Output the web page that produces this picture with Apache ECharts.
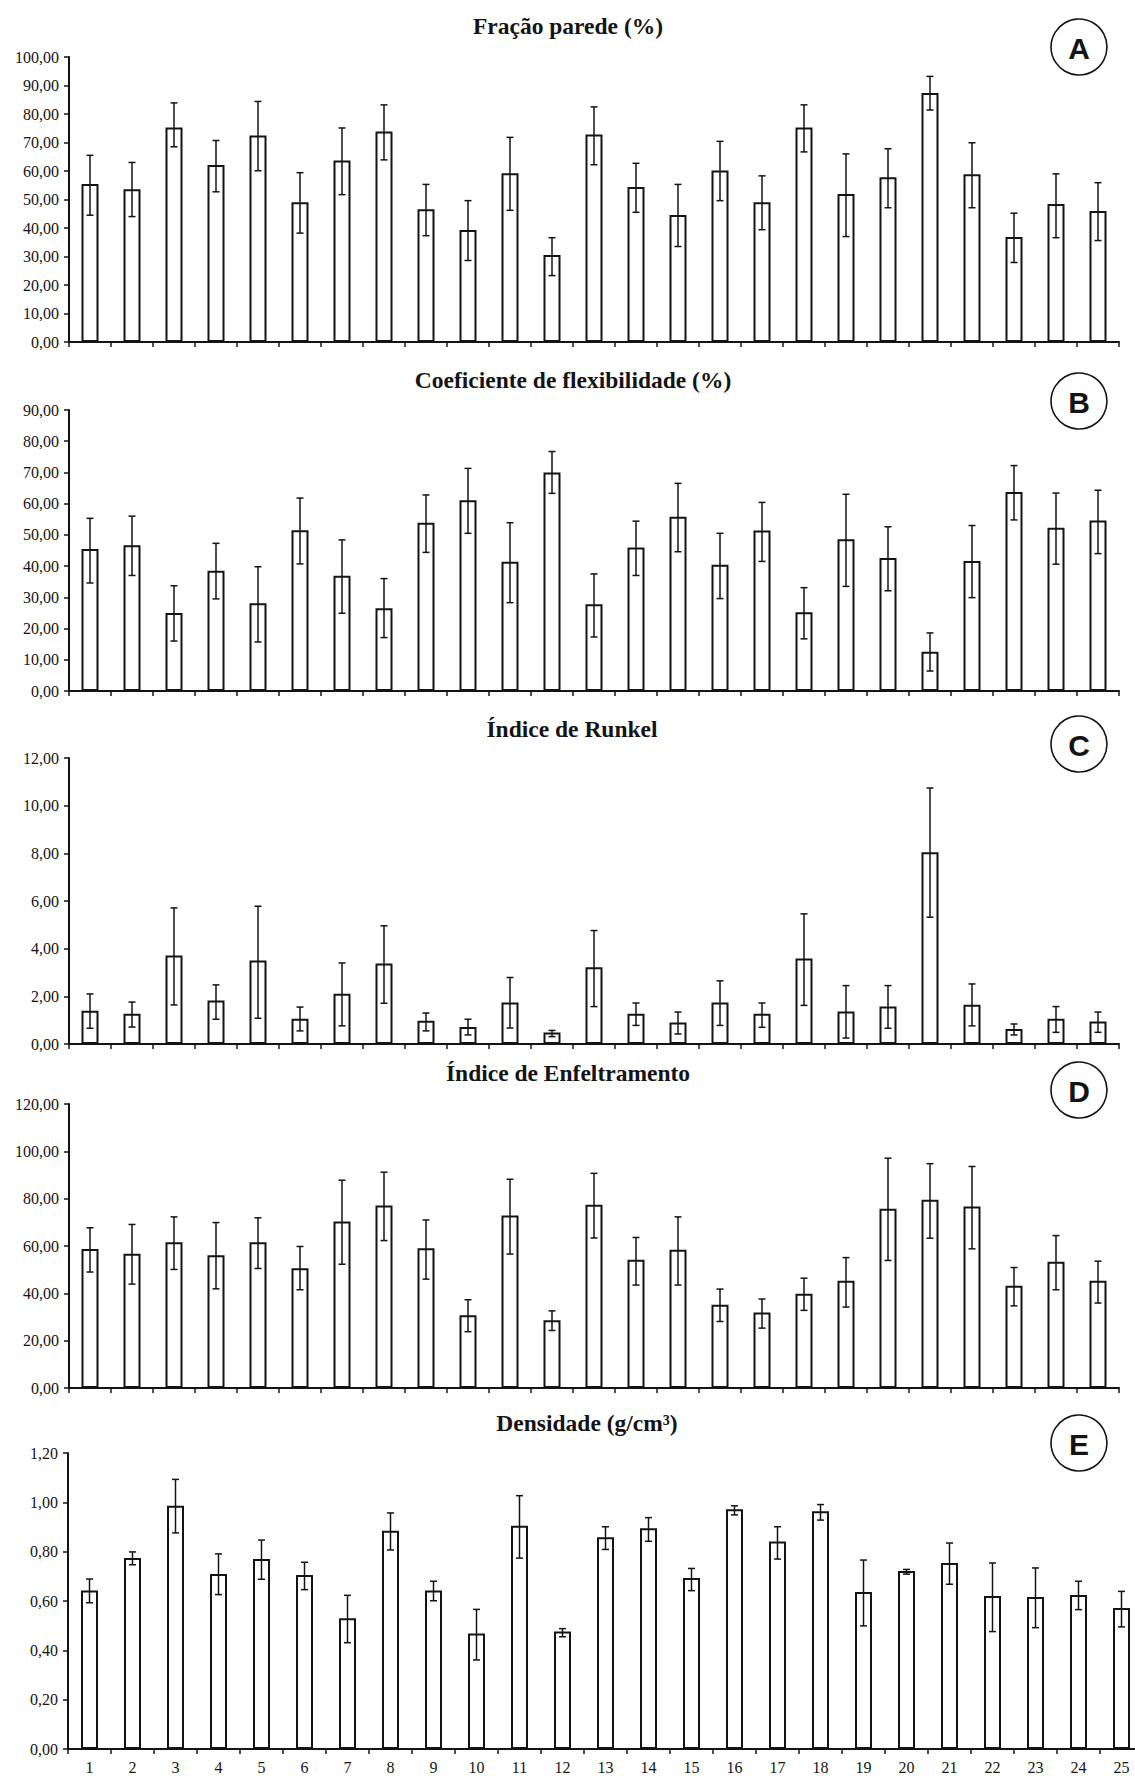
<!DOCTYPE html>
<html>
<head>
<meta charset="utf-8">
<script src="https://cdn.jsdelivr.net/npm/echarts@6/dist/echarts.min.js"></script>
<style>
  html, body { margin: 0; padding: 0; background: #fff; }
  #chart { width: 1135px; height: 1778px; font-family: 'Liberation Serif', serif; }
</style>
</head>
<body>
<div id="chart"></div>
<script>
const categories = ['1','2','3','4','5','6','7','8','9','10','11','12','13','14','15','16','17','18','19','20','21','22','23','24','25'];

const panelTitles = ['Fração parede (%)', 'Coeficiente de flexibilidade (%)', 'Índice de Runkel', 'Índice de Enfeltramento', 'Densidade (g/cm³)'];
const panelLetters = ['A', 'B', 'C', 'D', 'E'];
const yMax = [100, 90, 12, 120, 1.2];
const yStep = [10, 10, 2, 20, 0.2];

const fracaoMean = [55.4,53.6,75.3,62.1,72.5,49.0,63.7,73.9,46.6,39.3,59.2,30.5,72.8,54.4,44.6,60.2,49.0,75.3,51.9,57.8,87.4,58.9,36.8,48.4,46.0];
const fracaoLow  = [44.5,44.0,68.5,52.7,60.1,38.2,51.7,63.9,37.3,28.6,46.2,23.3,62.2,45.5,33.5,49.6,39.4,66.7,37.0,47.1,81.4,47.1,27.9,36.6,35.6];
const fracaoHigh = [65.5,63.0,83.9,70.7,84.4,59.4,75.1,83.2,55.3,49.6,71.8,36.6,82.5,62.7,55.3,70.4,58.3,83.2,66.0,67.8,93.2,69.9,45.2,59.0,55.9];

const flexMean = [45.5,46.7,25.0,38.5,28.1,51.5,36.9,26.5,53.9,61.1,41.4,70.0,27.8,46.0,55.8,40.4,51.4,25.2,48.6,42.6,12.6,41.6,63.7,52.3,54.6];
const flexLow  = [34.6,37.0,16.0,29.5,15.7,40.7,24.9,17.1,44.4,50.5,28.3,63.3,17.3,37.0,44.6,29.6,41.5,16.7,33.5,32.1,6.4,29.9,54.8,40.6,44.0];
const flexHigh = [55.3,56.0,33.7,47.3,39.8,61.8,48.4,36.0,62.8,71.3,53.9,76.7,37.5,54.4,66.5,50.5,60.4,33.1,63.0,52.6,18.6,53.0,72.2,63.4,64.3];

const runkelMean = [1.40,1.27,3.71,1.82,3.50,1.06,2.11,3.38,0.98,0.71,1.74,0.48,3.22,1.27,0.90,1.74,1.27,3.59,1.36,1.57,8.05,1.65,0.63,1.06,0.94];
const runkelLow  = [0.66,0.71,1.64,1.04,1.08,0.55,0.76,1.71,0.55,0.38,0.67,0.31,1.57,0.78,0.42,0.78,0.70,1.62,0.25,0.66,5.32,0.76,0.38,0.49,0.49];
const runkelHigh = [2.10,1.76,5.71,2.48,5.78,1.55,3.40,4.96,1.30,1.04,2.79,0.57,4.76,1.72,1.34,2.65,1.72,5.46,2.45,2.45,10.74,2.52,0.84,1.57,1.34];

const enfeltMean = [58.7,56.7,61.6,56.1,61.6,50.6,70.3,77.1,59.1,30.7,72.9,28.6,77.4,54.2,58.4,35.2,31.9,39.8,45.3,75.7,79.5,76.7,43.2,53.3,45.3];
const enfeltLow  = [49.0,43.9,50.1,41.9,50.5,41.5,52.3,62.3,46.0,23.8,56.6,24.3,63.4,43.5,43.5,28.1,25.3,32.8,34.2,53.9,63.3,58.8,34.7,41.5,35.9];
const enfeltHigh = [67.7,69.1,72.3,69.9,71.9,59.8,87.8,91.2,71.0,37.3,88.2,32.6,90.7,63.6,72.3,41.8,37.6,46.4,55.1,97.1,94.8,93.6,50.9,64.4,53.6];

const densMean = [0.643,0.774,0.986,0.709,0.770,0.705,0.530,0.885,0.643,0.468,0.905,0.476,0.858,0.895,0.693,0.972,0.841,0.964,0.636,0.722,0.754,0.620,0.616,0.624,0.572];
const densLow  = [0.593,0.747,0.876,0.626,0.688,0.646,0.431,0.807,0.601,0.361,0.774,0.455,0.809,0.842,0.642,0.949,0.770,0.928,0.499,0.709,0.668,0.476,0.492,0.565,0.495];
const densHigh = [0.689,0.799,1.093,0.791,0.847,0.757,0.623,0.957,0.680,0.566,1.027,0.488,0.901,0.938,0.732,0.986,0.901,0.991,0.766,0.728,0.835,0.754,0.734,0.680,0.639];

const means = [fracaoMean, flexMean, runkelMean, enfeltMean, densMean];
const lows = [fracaoLow, flexLow, runkelLow, enfeltLow, densLow];
const highs = [fracaoHigh, flexHigh, runkelHigh, enfeltHigh, densHigh];

// layout (pixels)
const gridBoxes = [
  { left: 69, top: 57,   width: 1050, height: 285 },
  { left: 69, top: 410,  width: 1050, height: 281 },
  { left: 69, top: 758,  width: 1050, height: 286 },
  { left: 69, top: 1104, width: 1050, height: 284 },
  { left: 68, top: 1453, width: 1075, height: 296 }
];
const titlePos = [[568, 26], [573, 380], [572, 729], [568, 1073], [587, 1423]];
const circlePos = [[1079, 47], [1079, 401], [1079, 744], [1079, 1090], [1079, 1443]];

const INK = '#141414';
const serif = 'Liberation Serif';
const fmt = v => v.toFixed(2).replace('.', ',');

const grids = [], xAxes = [], yAxes = [], series = [], graphics = [];
for (let i = 0; i < 5; i++) {
  grids.push(Object.assign({ outerBoundsMode: 'none', containLabel: false }, gridBoxes[i]));
  xAxes.push({
    type: 'category', gridIndex: i, data: categories, boundaryGap: true,
    axisLine: { show: true, onZero: false, lineStyle: { color: INK, width: 2 } },
    axisTick: { show: true, length: 5, inside: false, lineStyle: { color: INK, width: 1.5 } },
    axisLabel: { show: i === 4, fontFamily: serif, fontSize: 16, color: INK, margin: 10, interval: 0 },
    splitLine: { show: false }
  });
  yAxes.push({
    type: 'value', gridIndex: i, min: 0, max: yMax[i], interval: yStep[i],
    axisLine: { show: true, lineStyle: { color: INK, width: 2 } },
    axisTick: { show: true, length: 5, inside: false, lineStyle: { color: INK, width: 1.5 } },
    axisLabel: { fontFamily: serif, fontSize: 16, color: INK, margin: 10, formatter: fmt },
    splitLine: { show: false }
  });
  series.push({
    type: 'bar', xAxisIndex: i, yAxisIndex: i, data: means[i], barWidth: 17,
    itemStyle: { color: '#ffffff', borderColor: INK, borderWidth: 2 },
    silent: true, animation: false, z: 2
  });
  series.push({
    type: 'custom', xAxisIndex: i, yAxisIndex: i, silent: true, animation: false, z: 5,
    data: lows[i].map((l, k) => [k, l, highs[i][k]]),
    renderItem: function (params, api) {
      const lo = api.coord([api.value(0), api.value(1)]);
      const hi = api.coord([api.value(0), api.value(2)]);
      const cw = 3.5;
      const st = { stroke: INK, lineWidth: 1.5 };
      return {
        type: 'group',
        children: [
          { type: 'line', shape: { x1: lo[0], y1: lo[1], x2: hi[0], y2: hi[1] }, style: st },
          { type: 'line', shape: { x1: lo[0] - cw, y1: lo[1], x2: lo[0] + cw, y2: lo[1] }, style: st },
          { type: 'line', shape: { x1: hi[0] - cw, y1: hi[1], x2: hi[0] + cw, y2: hi[1] }, style: st }
        ]
      };
    }
  });
  graphics.push({
    type: 'text', x: titlePos[i][0], y: titlePos[i][1], silent: true,
    style: { text: panelTitles[i], fontFamily: serif, fontSize: 23.5, fontWeight: 'bold', fill: INK, textAlign: 'center', textVerticalAlign: 'middle' }
  });
  graphics.push({
    type: 'circle', shape: { cx: circlePos[i][0], cy: circlePos[i][1], r: 28 }, silent: true,
    style: { fill: '#fff', stroke: INK, lineWidth: 1.6 }
  });
  graphics.push({
    type: 'text', x: circlePos[i][0], y: circlePos[i][1] + 1, silent: true,
    style: { text: panelLetters[i], fontFamily: 'Liberation Sans', fontSize: 30, fontWeight: 'bold', fill: INK, textAlign: 'center', textVerticalAlign: 'middle' }
  });
}

const chart = echarts.init(document.getElementById('chart'), null, { renderer: 'svg', width: 1135, height: 1778 });
chart.setOption({
  backgroundColor: '#ffffff',
  animation: false,
  textStyle: { fontFamily: serif, fontSize: 16, color: INK },
  grid: grids,
  xAxis: xAxes,
  yAxis: yAxes,
  series: series,
  graphic: graphics
});
</script>
</body>
</html>
